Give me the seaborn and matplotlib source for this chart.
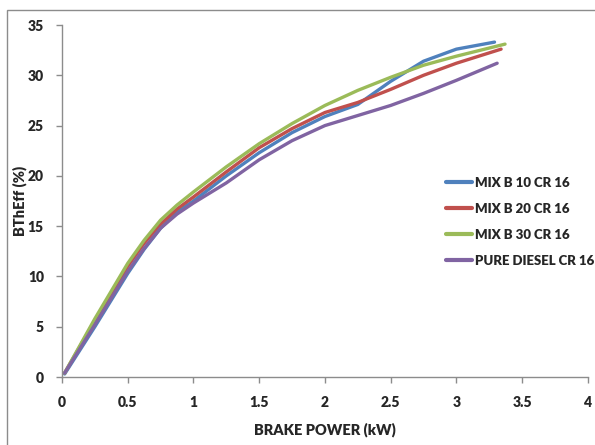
import pandas as pd
import seaborn as sns
import matplotlib.pyplot as plt
from matplotlib.patches import Rectangle

# Values
power_b10 = [0.02, 0.25, 0.5, 0.625, 0.75, 0.875, 1.0, 1.25, 1.5, 1.75, 2.0, 2.25, 2.5, 2.75, 3.0, 3.29]
eff_b10 = [0.3, 5.0, 10.3, 12.7, 14.8, 16.4, 17.5, 20.0, 22.3, 24.3, 25.9, 27.1, 29.4, 31.4, 32.6, 33.3]

power_b20 = [0.02, 0.25, 0.5, 0.625, 0.75, 0.875, 1.0, 1.25, 1.5, 1.75, 2.0, 2.25, 2.5, 2.75, 3.0, 3.34]
eff_b20 = [0.4, 5.6, 11.0, 13.3, 15.2, 16.7, 17.9, 20.4, 22.8, 24.7, 26.3, 27.3, 28.6, 30.0, 31.2, 32.6]

power_b30 = [0.02, 0.25, 0.5, 0.625, 0.75, 0.875, 1.0, 1.25, 1.5, 1.75, 2.0, 2.25, 2.5, 2.75, 3.0, 3.37]
eff_b30 = [0.4, 5.8, 11.3, 13.6, 15.6, 17.1, 18.4, 20.9, 23.2, 25.2, 27.0, 28.5, 29.8, 31.0, 31.9, 33.1]

power_diesel = [0.02, 0.25, 0.5, 0.625, 0.75, 0.875, 1.0, 1.25, 1.5, 1.75, 2.0, 2.25, 2.5, 2.75, 3.0, 3.31]
eff_diesel = [0.4, 5.2, 10.5, 12.8, 14.8, 16.2, 17.3, 19.3, 21.6, 23.5, 25.0, 26.0, 27.0, 28.2, 29.5, 31.2]

series_names = ['MIX B 10 CR 16', 'MIX B 20 CR 16', 'MIX B 30 CR 16', 'PURE DIESEL CR 16']
colors = ['#4F81BD', '#C0504D', '#9BBB59', '#8064A2']

x_ticks = [0, 0.5, 1, 1.5, 2, 2.5, 3, 3.5, 4]
x_tick_labels = ['0', '0.5', '1', '1.5', '2', '2.5', '3', '3.5', '4']
y_ticks = [0, 5, 10, 15, 20, 25, 30, 35]

# Build a long table for seaborn
frames = []
for name, xs, ys in zip(series_names,
                        [power_b10, power_b20, power_b30, power_diesel],
                        [eff_b10, eff_b20, eff_b30, eff_diesel]):
    frames.append(pd.DataFrame({'power': xs, 'eff': ys, 'series': name}))
df = pd.concat(frames, ignore_index=True)

sns.set_style("white")
plt.rcParams['font.family'] = ['Lato', 'DejaVu Sans']
plt.rcParams['font.weight'] = 'heavy'
weight = 'heavy'

fig = plt.figure(figsize=(5.95, 4.45), dpi=100)
ax = fig.add_axes([0.1042, 0.1528, 0.8838, 0.791])

# Outer chart border
fig.patches.append(Rectangle((7 / 595, -0.01), 1.0, 1 - 10 / 445 + 0.01,
                             transform=fig.transFigure, fill=False,
                             edgecolor='#8c8c8c', linewidth=1.0))

sns.lineplot(data=df, x='power', y='eff', hue='series', palette=colors,
             hue_order=series_names, linewidth=2.4, ax=ax, sort=False,
             estimator=None)

ax.set_xlim(0, 4)
ax.set_ylim(0, 35)
ax.set_xticks(x_ticks)
ax.set_xticklabels(x_tick_labels)
ax.set_yticks(y_ticks)
ax.tick_params(axis='both', labelsize=10, length=4, width=1, color='#8c8c8c',
               direction='out', bottom=True, left=True)
ax.tick_params(axis='x', pad=10)
ax.tick_params(axis='y', pad=9)
for lbl in ax.get_xticklabels() + ax.get_yticklabels():
    lbl.set_fontweight(weight)

for side in ['top', 'right']:
    ax.spines[side].set_visible(False)
for side in ['left', 'bottom']:
    ax.spines[side].set_color('#8c8c8c')
    ax.spines[side].set_linewidth(1)

ax.set_xlabel('BRAKE POWER (kW)', fontsize=10.5, fontweight=weight, va='center')
ax.set_ylabel('BThEff (%)', fontsize=10.5, fontweight=weight, va='center')
ax.xaxis.set_label_coords(0.5, (377 - 430) / 352)
ax.yaxis.set_label_coords((20 - 62) / 526, 0.5)

leg = ax.legend(loc='upper left', bbox_to_anchor=(446 / 595, 1 - 177 / 445),
                bbox_transform=fig.transFigure, frameon=False,
                handlelength=2.0, handletextpad=0.2, labelspacing=1.05,
                borderpad=0, borderaxespad=0, fontsize=9.5)
for line in leg.get_lines():
    line.set_linewidth(3)
for txt in leg.get_texts():
    txt.set_fontweight(weight)

plt.savefig('out.png', dpi=100)
print("File successfully saved.")
